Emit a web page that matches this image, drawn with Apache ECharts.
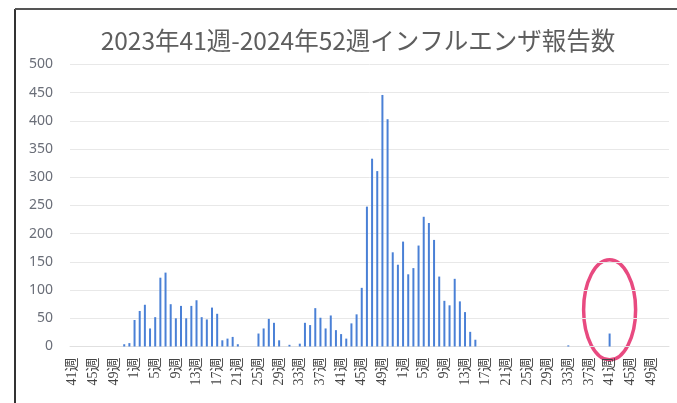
<!DOCTYPE html>
<html>
<head>
    <meta charset="utf-8">
    <title>ECharts</title>
    <script src="https://cdn.jsdelivr.net/npm/echarts@6/dist/echarts.min.js"></script>
</head>
<body style="margin:0;background:#fff;overflow:hidden;">
    <div id="main" style="width: 677px;height:403px;"></div>
    <script type="text/javascript">
        // 週ごとの報告数（2023年41週〜2025年52週）
        var years = [2023, 2024, 2025];
        var firstWeek = [41, 1, 1];
        var cases2023 = [0, 0, 0, 0, 0, 0, 0, 0, 0, 0, 4, 6];
        var cases2024 = [47, 63, 74, 32, 52, 122, 131, 75, 50, 72, 50, 72, 82, 52, 48, 69, 58, 11, 14, 17,
                         4, 0, 0, 0, 23, 32, 49, 42, 11, 0, 3, 0, 5, 42, 38, 68, 51, 32, 55, 29,
                         22, 14, 41, 57, 104, 248, 333, 311, 446, 403, 167, 145];
        var cases2025 = [186, 128, 139, 179, 230, 219, 189, 124, 81, 73, 120, 80, 61, 26, 12, 0, 0, 0, 0, 0,
                         0, 0, 0, 0, 0, 0, 0, 0, 0, 0, 0, 0, 2, 0, 0, 0, 0, 0, 0, 0,
                         23, 0, 0, 0, 0, 0, 0, 0, 0, 0, 0, 0];
        var yTicks = [0, 50, 100, 150, 200, 250, 300, 350, 400, 450, 500];
        var markedWeek = '2025-41';

        var categories = [];
        var values = [];
        [cases2023, cases2024, cases2025].forEach(function (arr, k) {
            arr.forEach(function (v, j) {
                categories.push(years[k] + '-' + (firstWeek[k] + j));
                values.push(v);
            });
        });

        var myChart = echarts.init(document.getElementById('main'));

        // 紙の枠線（左と上）
        var frame = [{
            type: 'line',
            shape: { x1: 15, y1: 9, x2: 15, y2: 403 },
            style: { stroke: '#333', lineWidth: 2 },
            silent: true
        }, {
            type: 'line',
            shape: { x1: 15, y1: 9, x2: 677, y2: 9 },
            style: { stroke: '#555', lineWidth: 2 },
            silent: true
        }];

        var option = {
            backgroundColor: '#fff',
            animation: false,
            title: {
                text: '2023年41週-2024年52週インフルエンザ報告数',
                left: 353,
                top: 23,
                textAlign: 'center',
                textStyle: {
                    fontFamily: 'Noto Sans CJK JP',
                    fontSize: 24.5,
                    fontWeight: 'normal',
                    color: '#5e5e5e'
                }
            },
            grid: {
                left: 70,
                right: 8,
                top: 64.5,
                bottom: 56.5
            },
            xAxis: {
                type: 'category',
                data: categories,
                axisLine: { lineStyle: { color: '#e0e0e0' } },
                axisTick: { show: false },
                axisLabel: {
                    interval: 3,
                    rotate: 90,
                    margin: 11,
                    fontSize: 14,
                    fontFamily: 'Liberation Serif, Noto Sans CJK JP',
                    color: '#444',
                    formatter: function (v) {
                        return v.split('-')[1] + '週';
                    }
                }
            },
            yAxis: {
                type: 'value',
                min: yTicks[0],
                max: yTicks[yTicks.length - 1],
                interval: 50,
                axisLine: { show: false },
                axisTick: { show: false },
                axisLabel: {
                    margin: 17,
                    fontSize: 14,
                    fontFamily: 'Noto Sans',
                    color: '#6a6e78'
                },
                splitLine: { lineStyle: { color: '#e8e8e8' } }
            },
            series: [{
                type: 'bar',
                data: values,
                barWidth: 2,
                itemStyle: { color: '#4a80d6' }
            }],
            graphic: frame
        };

        myChart.setOption(option);

        // 強調の楕円（41週の棒の位置に合わせる）
        var c = myChart.convertToPixel({ xAxisIndex: 0, yAxisIndex: 0 }, [markedWeek, 65]);
        myChart.setOption({
            graphic: frame.concat([{
                type: 'ellipse',
                shape: { cx: c[0], cy: c[1], rx: 26, ry: 50 },
                style: { fill: 'none', stroke: '#e84a80', lineWidth: 3.5 },
                silent: true
            }])
        });
    </script>
</body>
</html>
